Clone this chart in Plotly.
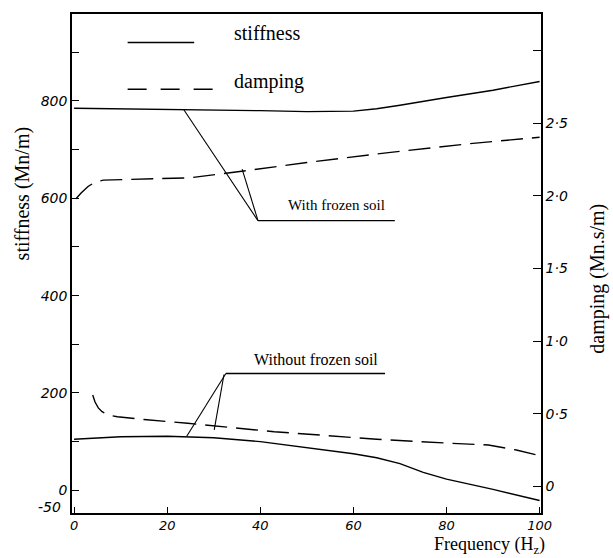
import plotly.graph_objects as go

# ---------------- data ----------------
freq_stiff_frozen = [0, 10, 20, 30, 40, 50, 55, 60, 65, 70, 80, 90, 100]
stiff_frozen = [785, 784, 783, 782, 780, 778, 778, 779, 784, 791, 807, 822, 840]

freq_damp_frozen = [0.4, 1.5, 3.0, 4.5, 6.3, 10, 20, 25, 36, 50, 68, 85, 100]
damp_frozen = [1.98, 2.02, 2.065, 2.095, 2.109, 2.112, 2.118, 2.125, 2.17, 2.23, 2.30, 2.36, 2.404]

freq_stiff_unfrozen = [0, 5, 10, 20, 25, 30, 40, 50, 60, 65, 70, 75, 80, 90, 100]
stiff_unfrozen = [105, 108, 110, 111, 110, 108, 100, 88, 75, 67, 55, 37, 23, 2, -21]

freq_damp_unfrozen = [4.0, 4.5, 5.2, 6.0, 7.5, 9.3, 15, 24.4, 43, 65, 81, 89, 95, 100]
damp_unfrozen = [0.629, 0.58, 0.54, 0.514, 0.49, 0.479, 0.46, 0.434, 0.376, 0.324, 0.296, 0.284, 0.25, 0.211]

x_ticks = [0, 20, 40, 60, 80, 100]
x_ticktext = ["0", "20", "40", "60", "80", "100"]
y_ticks = [0, 200, 400, 600, 800]
y_ticktext = ["0", "200", "400", "600", "800"]
y_minor_ticks = [100, 300, 500, 700, 900]
y2_ticks = [0, 0.5, 1.0, 1.5, 2.0, 2.5]
y2_ticktext = ["0", "0·5", "1·0", "1·5", "2·0", "2·5"]
y2_minor_ticks = [3.0]

SERIF = "Liberation Serif"
TICKFONT = dict(family="DejaVu Sans", size=14, color="black", style="italic")
XTICKFONT = dict(family="DejaVu Sans", size=13, color="black", style="italic")
BLK = "black"

def ital(labels):
    return [f"<i>{t}</i>" for t in labels]

fig = go.Figure()
fig.add_trace(go.Scatter(x=freq_stiff_frozen, y=stiff_frozen, mode="lines",
                         line=dict(color=BLK, width=1.4), name="stiffness", showlegend=False))
fig.add_trace(go.Scatter(x=freq_stiff_unfrozen, y=stiff_unfrozen, mode="lines",
                         line=dict(color=BLK, width=1.4), name="stiffness", showlegend=False))
fig.add_trace(go.Scatter(x=freq_damp_frozen, y=damp_frozen, mode="lines", yaxis="y2",
                         line=dict(color=BLK, width=1.4, dash="22px,9px"),
                         name="damping", showlegend=False))
fig.add_trace(go.Scatter(x=freq_damp_unfrozen, y=damp_unfrozen, mode="lines", yaxis="y2",
                         line=dict(color=BLK, width=1.4, dash="22px,9px"),
                         name="damping", showlegend=False))

shapes = []
def seg(x0, y0, x1, y1, dash="solid", w=1.1):
    shapes.append(dict(type="line", xref="x", yref="y", x0=x0, y0=y0, x1=x1, y1=y1,
                       line=dict(color=BLK, width=w, dash=dash)))

# legend samples
seg(11.5, 920, 25.8, 920, w=1.4)
seg(11.5, 824, 30.4, 824, dash="19px,14px", w=1.4)
# "With frozen soil" leaders
seg(23.5, 783, 39.5, 554)
seg(36.1, 660, 39.5, 554)
seg(39.5, 554, 68.9, 554, w=1.4)
# "Without frozen soil" leaders
seg(24.2, 111, 32.6, 240)
seg(32.2, 238, 30.1, 124)
seg(32.6, 240, 66.8, 240, w=1.4)

annotations = [
    dict(x=33.9, y=940, xref="x", yref="y", text="stiffness", showarrow=False,
         xanchor="left", yanchor="middle", font=dict(family=SERIF, size=20, color=BLK)),
    dict(x=33.9, y=840, xref="x", yref="y", text="damping", showarrow=False,
         xanchor="left", yanchor="middle", font=dict(family=SERIF, size=20, color=BLK)),
    dict(x=56.3, y=586, xref="x", yref="y", text="With frozen soil", showarrow=False,
         xanchor="center", yanchor="middle", font=dict(family=SERIF, size=15, color=BLK)),
    dict(x=51.9, y=268, xref="x", yref="y", text="Without frozen soil", showarrow=False,
         xanchor="center", yanchor="middle", font=dict(family=SERIF, size=16, color=BLK)),
    dict(x=-0.02, y=-35, xref="paper", yref="y", text="<i>-50</i>", showarrow=False,
         xanchor="right", yanchor="middle", font=TICKFONT),
    dict(x=1.01, y=-0.09, xref="paper", yref="paper", text="Frequency (H<sub>z</sub>)",
         showarrow=False, xanchor="right", yanchor="bottom", borderpad=0,
         font=dict(family=SERIF, size=18, color=BLK)),
    dict(x=-0.105, y=0.64, xref="paper", yref="paper", text="stiffness (Mn/m)",
         showarrow=False, textangle=-90, xanchor="center", yanchor="middle",
         font=dict(family=SERIF, size=20, color=BLK)),
    dict(x=1.12, y=0.47, xref="paper", yref="paper", text="damping (Mn.s/m)",
         showarrow=False, textangle=-90, xanchor="center", yanchor="middle",
         font=dict(family=SERIF, size=20, color=BLK)),
]

fig.update_layout(
    width=613, height=558,
    margin=dict(l=72, r=72, t=14, b=45),
    paper_bgcolor="white", plot_bgcolor="white",
    showlegend=False,
    shapes=shapes, annotations=annotations,
    xaxis=dict(range=[-0.45, 100.3], tickvals=x_ticks, ticktext=ital(x_ticktext),
               ticks="inside", ticklen=6, tickcolor=BLK, tickwidth=1.3,
               showline=True, linecolor=BLK, linewidth=1.6, mirror=True,
               showgrid=False, zeroline=False, tickfont=XTICKFONT),
    yaxis=dict(range=[-46.6, 978.6], tickvals=y_ticks, ticktext=ital(y_ticktext),
               ticks="inside", ticklen=7, tickcolor=BLK, tickwidth=1.3,
               minor=dict(tickvals=y_minor_ticks, ticks="inside", ticklen=7,
                          tickcolor=BLK, tickwidth=1.3, showgrid=False),
               showline=True, linecolor=BLK, linewidth=1.6,
               showgrid=False, zeroline=False, tickfont=TICKFONT),
    yaxis2=dict(range=[-0.184, 3.253], tickvals=y2_ticks, ticktext=ital(y2_ticktext),
                overlaying="y", side="right",
                ticks="inside", ticklen=8, tickcolor=BLK, tickwidth=1.3,
                minor=dict(tickvals=y2_minor_ticks, ticks="inside", ticklen=8,
                           tickcolor=BLK, tickwidth=1.3, showgrid=False),
                showline=True, linecolor=BLK, linewidth=1.6,
                showgrid=False, zeroline=False, tickfont=TICKFONT),
)

fig.write_html("out.html")
